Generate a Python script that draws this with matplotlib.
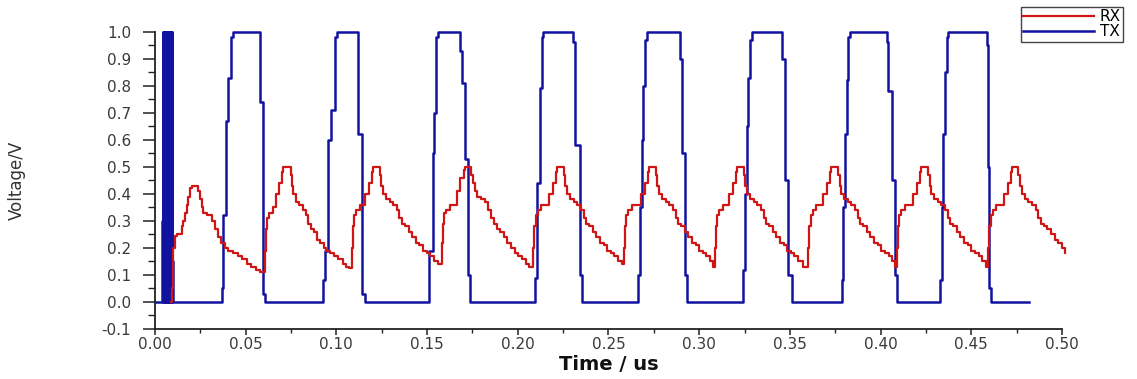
from __future__ import annotations

import matplotlib

matplotlib.use("Agg")
import matplotlib.pyplot as plt
from matplotlib.ticker import MultipleLocator

# TX breakpoints (time in us, voltage), drawn as a step trace
tx_t = [
    0.0000, 0.0037, 0.0044, 0.0047, 0.0050, 0.0053, 0.0056, 0.0059, 0.0062, 0.0065,
    0.0068, 0.0071, 0.0074, 0.0077, 0.0080, 0.0083, 0.0086, 0.0089, 0.0092, 0.0095, 0.0101,
    # pulse 1
    0.0368, 0.0377, 0.0391, 0.0404, 0.0417, 0.0432, 0.0579, 0.0597, 0.0606,
    # pulse 2
    0.0924, 0.0937, 0.0955, 0.0973, 0.0991, 0.1001, 0.1121, 0.1139, 0.1158,
    # pulse 3
    0.1512, 0.1530, 0.1540, 0.1551, 0.1562, 0.1681, 0.1690, 0.1708, 0.1727, 0.1737,
    # pulse 4
    0.2095, 0.2104, 0.2122, 0.2132, 0.2141, 0.2306, 0.2315, 0.2343, 0.2352,
    # pulse 5
    0.2665, 0.2674, 0.2684, 0.2693, 0.2702, 0.2711, 0.2894, 0.2903, 0.2921, 0.2931,
    # pulse 6
    0.3243, 0.3252, 0.3262, 0.3271, 0.3280, 0.3289, 0.3455, 0.3473, 0.3491, 0.3510,
    # pulse 7
    0.3785, 0.3794, 0.3803, 0.3813, 0.3822, 0.3831, 0.4033, 0.4042, 0.4061, 0.4079, 0.4089,
    # pulse 8
    0.4327, 0.4336, 0.4346, 0.4355, 0.4364, 0.4373, 0.4585, 0.4592, 0.4600, 0.4607, 0.4820,
]
tx_v = [
    0.00, 0.30, 1.00, 0.00, 1.00, 0.00, 1.00, 0.00, 1.00, 0.00,
    1.00, 0.00, 1.00, 0.00, 1.00, 0.00, 1.00, 0.00, 1.00, 0.15, 0.00,
    0.05, 0.32, 0.67, 0.83, 0.98, 1.00, 0.74, 0.03, 0.00,
    0.08, 0.19, 0.60, 0.71, 0.98, 1.00, 0.62, 0.03, 0.00,
    0.19, 0.55, 0.70, 0.98, 1.00, 0.93, 0.81, 0.53, 0.10, 0.00,
    0.09, 0.44, 0.79, 0.98, 1.00, 0.96, 0.58, 0.10, 0.00,
    0.10, 0.35, 0.60, 0.80, 0.97, 1.00, 0.90, 0.55, 0.10, 0.00,
    0.12, 0.40, 0.65, 0.83, 0.97, 1.00, 0.90, 0.45, 0.10, 0.00,
    0.08, 0.35, 0.62, 0.82, 0.98, 1.00, 0.96, 0.78, 0.45, 0.10, 0.00,
    0.08, 0.35, 0.62, 0.85, 0.98, 1.00, 0.95, 0.50, 0.05, 0.00, 0.00,
]

# RX breakpoints (time in us, voltage), drawn as a step trace
rx_t = [
    # cycle 1
    0.0088, 0.0092, 0.0101, 0.0110, 0.0119, 0.0147, 0.0156, 0.0165, 0.0175, 0.0184,
    0.0193, 0.0202, 0.0239, 0.0248, 0.0257, 0.0266, 0.0285, 0.0313, 0.0330, 0.0345,
    0.0365, 0.0385, 0.0405, 0.0430, 0.0455, 0.0480, 0.0505, 0.0530, 0.0555, 0.0580,
    # cycle 2
    0.0606, 0.0612, 0.0620, 0.0630, 0.0650, 0.0668, 0.0684, 0.0698, 0.0708, 0.0748,
    0.0756, 0.0763, 0.0775, 0.0795, 0.0815, 0.0830, 0.0845, 0.0858, 0.0875, 0.0895,
    0.0912, 0.0930, 0.0945, 0.0965, 0.0985, 0.1011, 0.1035, 0.1055, 0.1070,
    # cycle 3
    0.1084, 0.1090, 0.1098, 0.1109, 0.1129, 0.1158, 0.1178, 0.1198, 0.1203, 0.1238,
    0.1248, 0.1258, 0.1273, 0.1293, 0.1313, 0.1333, 0.1348, 0.1363, 0.1378, 0.1398,
    0.1418, 0.1438, 0.1458, 0.1478, 0.1498, 0.1518, 0.1538, 0.1558,
    # cycle 4
    0.1580, 0.1586, 0.1594, 0.1605, 0.1625, 0.1663, 0.1683, 0.1703, 0.1708, 0.1743,
    0.1753, 0.1763, 0.1778, 0.1798, 0.1818, 0.1838, 0.1853, 0.1868, 0.1883, 0.1903,
    0.1923, 0.1943, 0.1963, 0.1983, 0.2003, 0.2023, 0.2043, 0.2063,
    # cycle 5
    0.2085, 0.2091, 0.2099, 0.2110, 0.2130, 0.2173, 0.2193, 0.2213, 0.2218, 0.2253,
    0.2263, 0.2273, 0.2288, 0.2308, 0.2328, 0.2348, 0.2363, 0.2378, 0.2393, 0.2413,
    0.2433, 0.2453, 0.2473, 0.2493, 0.2513, 0.2533, 0.2553, 0.2573,
    # cycle 6
    0.2585, 0.2591, 0.2599, 0.2610, 0.2630, 0.2680, 0.2700, 0.2720, 0.2725, 0.2760,
    0.2770, 0.2780, 0.2795, 0.2815, 0.2835, 0.2855, 0.2870, 0.2885, 0.2900, 0.2920,
    0.2940, 0.2960, 0.2980, 0.3000, 0.3020, 0.3040, 0.3060, 0.3078,
    # cycle 7
    0.3087, 0.3093, 0.3101, 0.3112, 0.3132, 0.3165, 0.3185, 0.3205, 0.3210, 0.3245,
    0.3255, 0.3265, 0.3280, 0.3300, 0.3320, 0.3340, 0.3355, 0.3370, 0.3385, 0.3405,
    0.3425, 0.3445, 0.3465, 0.3485, 0.3505, 0.3525, 0.3545, 0.3570,
    # cycle 8
    0.3600, 0.3606, 0.3614, 0.3625, 0.3645, 0.3684, 0.3704, 0.3724, 0.3729, 0.3764,
    0.3774, 0.3784, 0.3799, 0.3819, 0.3839, 0.3859, 0.3874, 0.3889, 0.3904, 0.3924,
    0.3944, 0.3964, 0.3984, 0.4004, 0.4024, 0.4044, 0.4064, 0.4080,
    # cycle 9
    0.4089, 0.4095, 0.4103, 0.4114, 0.4134, 0.4180, 0.4200, 0.4220, 0.4225, 0.4260,
    0.4270, 0.4280, 0.4295, 0.4315, 0.4335, 0.4355, 0.4370, 0.4385, 0.4400, 0.4420,
    0.4440, 0.4460, 0.4480, 0.4500, 0.4520, 0.4540, 0.4560, 0.4580,
    # cycle 10
    0.4594, 0.4600, 0.4608, 0.4619, 0.4639, 0.4680, 0.4700, 0.4720, 0.4725, 0.4760,
    0.4770, 0.4780, 0.4795, 0.4815, 0.4835, 0.4855, 0.4870, 0.4885, 0.4900, 0.4920,
    0.4940, 0.4960, 0.4980, 0.5000, 0.5016,
]
rx_v = [
    0.00, 0.05, 0.20, 0.245, 0.25, 0.28, 0.30, 0.33, 0.36, 0.39,
    0.42, 0.43, 0.41, 0.38, 0.35, 0.33, 0.32, 0.30, 0.27, 0.24,
    0.22, 0.20, 0.19, 0.18, 0.17, 0.16, 0.14, 0.13, 0.12, 0.11,
    0.19, 0.27, 0.31, 0.33, 0.35, 0.40, 0.44, 0.48, 0.50, 0.47,
    0.43, 0.40, 0.37, 0.36, 0.34, 0.32, 0.29, 0.27, 0.26, 0.23,
    0.22, 0.20, 0.19, 0.18, 0.17, 0.16, 0.14, 0.13, 0.126,
    0.20, 0.28, 0.32, 0.34, 0.36, 0.40, 0.44, 0.48, 0.50, 0.47,
    0.43, 0.40, 0.38, 0.37, 0.36, 0.34, 0.31, 0.29, 0.28, 0.26,
    0.24, 0.22, 0.21, 0.19, 0.18, 0.17, 0.15, 0.14,
    0.22, 0.29, 0.33, 0.34, 0.36, 0.41, 0.46, 0.49, 0.50, 0.47,
    0.44, 0.41, 0.39, 0.38, 0.37, 0.34, 0.31, 0.29, 0.27, 0.26,
    0.24, 0.22, 0.20, 0.18, 0.17, 0.16, 0.14, 0.13,
    0.20, 0.28, 0.32, 0.34, 0.36, 0.40, 0.44, 0.48, 0.50, 0.47,
    0.43, 0.40, 0.38, 0.37, 0.36, 0.34, 0.31, 0.29, 0.28, 0.26,
    0.24, 0.22, 0.21, 0.19, 0.18, 0.17, 0.15, 0.14,
    0.20, 0.28, 0.32, 0.34, 0.36, 0.40, 0.44, 0.48, 0.50, 0.47,
    0.43, 0.40, 0.38, 0.37, 0.36, 0.34, 0.31, 0.29, 0.28, 0.26,
    0.24, 0.22, 0.21, 0.19, 0.18, 0.17, 0.15, 0.13,
    0.20, 0.28, 0.32, 0.34, 0.36, 0.40, 0.44, 0.48, 0.50, 0.47,
    0.43, 0.40, 0.38, 0.37, 0.36, 0.34, 0.31, 0.29, 0.28, 0.26,
    0.24, 0.22, 0.21, 0.19, 0.18, 0.17, 0.15, 0.13,
    0.20, 0.28, 0.32, 0.34, 0.36, 0.40, 0.44, 0.48, 0.50, 0.47,
    0.43, 0.40, 0.38, 0.37, 0.36, 0.34, 0.31, 0.29, 0.28, 0.26,
    0.24, 0.22, 0.21, 0.19, 0.18, 0.17, 0.15, 0.13,
    0.20, 0.28, 0.32, 0.34, 0.36, 0.40, 0.44, 0.48, 0.50, 0.47,
    0.43, 0.40, 0.38, 0.37, 0.36, 0.34, 0.31, 0.29, 0.28, 0.26,
    0.24, 0.22, 0.21, 0.19, 0.18, 0.17, 0.15, 0.13,
    0.20, 0.28, 0.32, 0.34, 0.36, 0.40, 0.44, 0.48, 0.50, 0.47,
    0.43, 0.40, 0.38, 0.37, 0.36, 0.34, 0.31, 0.29, 0.28, 0.27,
    0.25, 0.23, 0.22, 0.20, 0.18,
]

X_TICKS = [0.00, 0.05, 0.10, 0.15, 0.20, 0.25, 0.30, 0.35, 0.40, 0.45, 0.50]
Y_TICKS = [-0.1, 0.0, 0.1, 0.2, 0.3, 0.4, 0.5, 0.6, 0.7, 0.8, 0.9, 1.0]


def main() -> None:
    plt.rcParams["font.family"] = ["DejaVu Sans"]
    fig = plt.figure(figsize=(11.37, 3.79), dpi=100)
    ax = fig.add_axes([0.1363, 0.1319, 0.7977, 0.7845])

    ax.plot(rx_t, rx_v, drawstyle="steps-post", color="#d01515", linewidth=1.6,
            label="RX", zorder=3, clip_on=False)
    ax.plot(tx_t, tx_v, drawstyle="steps-post", color="#1212a0", linewidth=1.8,
            label="TX", zorder=2, clip_on=False)

    ax.set_xlim(0.0, 0.5)
    ax.set_ylim(-0.1, 1.0)
    ax.set_xticks(X_TICKS)
    ax.set_xticklabels([f"{v:.2f}" for v in X_TICKS])
    ax.set_yticks(Y_TICKS)
    ax.set_yticklabels([f"{v:.1f}" for v in Y_TICKS])
    ax.xaxis.set_minor_locator(MultipleLocator(0.025))
    ax.yaxis.set_minor_locator(MultipleLocator(0.05))

    for side in ("top", "right"):
        ax.spines[side].set_visible(False)
    for side in ("left", "bottom"):
        ax.spines[side].set_linewidth(1.3)
        ax.spines[side].set_color("#222222")

    ax.tick_params(axis="y", which="major", direction="out", length=9, width=1.1,
                   labelsize=11, color="#222222", labelcolor="#3a3a3a", pad=8)
    ax.tick_params(axis="y", which="minor", direction="out", length=5, width=1.0,
                   color="#222222")
    ax.tick_params(axis="x", which="major", direction="out", length=4, width=1.1,
                   labelsize=11, color="#222222", labelcolor="#3a3a3a", pad=2)
    ax.tick_params(axis="x", which="minor", direction="out", length=3, width=1.0,
                   color="#222222")

    ax.set_xlabel("Time / us", fontsize=14, fontweight="bold", labelpad=2,
                  color="#111111")
    ax.set_ylabel("Voltage/V", fontsize=12, color="#333333")
    ax.yaxis.set_label_coords(-0.142, 0.5)

    ax.legend(loc="upper left", bbox_to_anchor=(1021 / 1137, 1 - 7 / 379),
              bbox_transform=fig.transFigure, fontsize=11, frameon=True,
              fancybox=False, edgecolor="#444444", handlelength=4.6,
              handletextpad=0.4, labelspacing=0.0, borderpad=0.15,
              borderaxespad=0.0, framealpha=1.0)

    fig.savefig("out.png", dpi=100)
    plt.close(fig)


if __name__ == "__main__":
    main()
